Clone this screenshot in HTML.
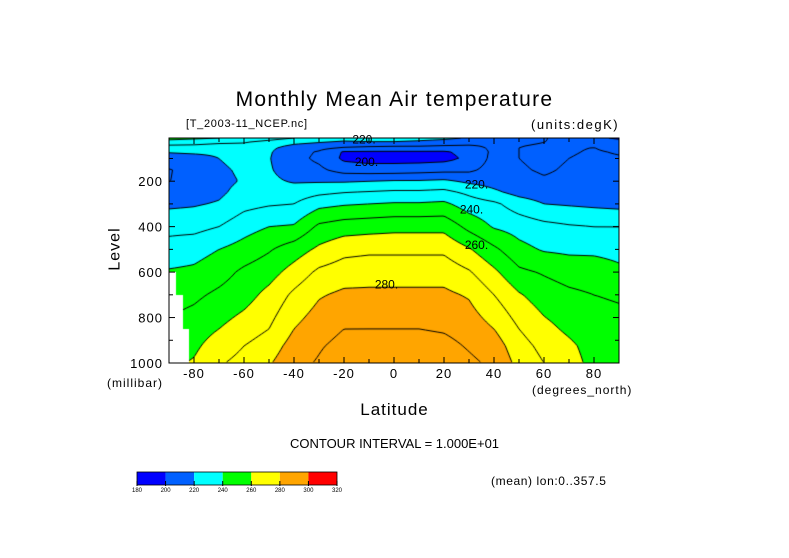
<!DOCTYPE html>
<html><head><meta charset="utf-8">
<style>
html,body{margin:0;padding:0;background:#fff;}
body{width:789px;height:558px;position:relative;overflow:hidden;font-family:"Liberation Sans",sans-serif;color:#000;}
.t{position:absolute;white-space:nowrap;}
#cv{position:absolute;left:169px;top:138px;}
svg{position:absolute;left:0;top:0;}
</style></head>
<body>
<div class="t" style="left:0;width:789px;text-align:center;top:88px;font-size:21px;letter-spacing:1.3px;">Monthly Mean Air temperature</div>
<div class="t" style="left:186px;top:118px;font-size:11px;letter-spacing:0.7px;">[T_2003-11_NCEP.nc]</div>
<div class="t" style="left:531px;top:117px;font-size:13px;letter-spacing:1.5px;">(units:degK)</div>
<canvas id="cv" width="450" height="225"></canvas>
<svg id="ov" width="789" height="558"></svg>
<div class="t" style="left:94px;top:240px;font-size:16px;letter-spacing:1px;transform:rotate(-90deg);">Level</div>
<div class="t" style="left:107px;top:376px;font-size:12px;letter-spacing:1px;">(millibar)</div>
<div class="t" style="left:532px;top:383px;font-size:12px;letter-spacing:1px;">(degrees_north)</div>
<div class="t" style="left:0;width:789px;text-align:center;top:400px;font-size:17px;letter-spacing:1px;">Latitude</div>
<div class="t" style="left:0;width:789px;text-align:center;top:436px;font-size:13px;">CONTOUR INTERVAL = 1.000E+01</div>
<div class="t" style="left:491px;top:474px;font-size:12px;letter-spacing:0.6px;">(mean) lon:0..357.5</div>
<script>
const lats=[-90,-80,-70,-60,-50,-40,-30,-20,-10,0,10,20,30,40,50,60,70,80,90];
const levels=[10,30,50,70,100,150,200,250,300,400,500,600,700,850,925,1000];
const T_m90=[244,234,227,221,215,209.5,209.8,213,218,227,234,241,246,252,255,258];
const T_m80=[242,233,227,222,216,213,213,215,219,227,236,242,248,255,258,261];
const T_m70=[240,231,226,222,220,218,217,218,221,230,240,246,252,260,265,269];
const T_m60=[238,230,227,225,224,222,221,224,227,236,244,252,256,265,270,273];
const T_m50=[234,226,222,221,220.5,221,222,224,229,240,249,256,263,270,275,279];
const T_m40=[230,222,217,214,213,215,219,225,230,241,255,264,272,280,284,287];
const T_m30=[226,220,214,209,208,212,219,228,237,252,262,272,279,286,289,291];
const T_m20=[224,218,211,199,198,206,219,230,239,255,267,275,282,290,293,296];
const T_m10=[224,219,209,199,196,205,220,231,240,256,268,276,282,290,294,297];
const T_0=[224,219,208,199,196,205,221,232,241,257,268,276,282,290,294,297];
const T_10=[223,218,208,199,196,206,221,232,241,257,268,276,282,290,294,297];
const T_20=[222,216,207,199,197,207,222,233,242,257,268,276,282,289,293,296];
const T_30=[219,214,207,203,202,208,218,228,235,247,261,271,279,286,289,292];
const T_40=[214,212,212,212,213,214,216,222,232,239,252,262,270,280,285,288];
const T_50=[213,211,210,210,210,211,213,217,225,236,243,252,261,270,274,277];
const T_60=[210.5,210,209,208,208,209,211,215,220,233,239,249,255,263,267,270];
const T_70=[207,209,209.5,209.5,210,211,212,215,219,231,238,246,252,258,262,264];
const T_80=[203,207,210,210.5,211,212,213,215,218,230,238,245,250,254,256,257];
const T_90=[198,205,208,209.5,210.5,211,212,214,217,230,237,242,249,253,255,256];
const grid=[T_m90,T_m80,T_m70,T_m60,T_m50,T_m40,T_m30,T_m20,T_m10,T_0,T_10,T_20,T_30,T_40,T_50,T_60,T_70,T_80,T_90];
const maskLat0=[-90,-87,-84.5];
const maskLat1=[-87,-84.5,-82];
const maskP=[600,700,850];
const colorBounds=[180,200,220,240,260,280,300,320];
const colorFills=['#0000ff','#0060ff','#00ffff','#00ff00','#ffff00','#ffa500','#ff0000'];
const contourLevels=[190,200,210,220,230,240,250,260,270,280,290,300];
const xTickVals=[-80,-60,-40,-20,0,20,40,60,80];
const yTickVals=[200,400,600,800,1000];

const X0=169,X1=619,Y0=138,Y1=363,LAT0=-90,LAT1=90,P0=10,P1=1000;
const W=450,H=225;
function xOf(lat){return X0+(lat-LAT0)/(LAT1-LAT0)*(X1-X0);}
function yOf(p){return Y0+(p-P0)/(P1-P0)*(Y1-Y0);}
function latAt(px){return LAT0+px/W*(LAT1-LAT0);}
function pAt(py){return P0+py/H*(P1-P0);}
function masked(lat,p){for(let i=0;i<maskP.length;i++){if(lat>=maskLat0[i]&&lat<maskLat1[i]&&p>=maskP[i])return true;}return false;}
function tAt(lat,p){
  if(masked(lat,p))return NaN;
  let i=0;while(i<lats.length-2&&lat>lats[i+1])i++;
  let j=0;while(j<levels.length-2&&p>levels[j+1])j++;
  let fx=(lat-lats[i])/(lats[i+1]-lats[i]);fx=Math.max(0,Math.min(1,fx));
  let fy=(p-levels[j])/(levels[j+1]-levels[j]);fy=Math.max(0,Math.min(1,fy));
  const a=grid[i][j],b=grid[i+1][j],c=grid[i][j+1],d=grid[i+1][j+1];
  return a*(1-fx)*(1-fy)+b*fx*(1-fy)+c*(1-fx)*fy+d*fx*fy;
}
function hex(c){return [parseInt(c.substr(1,2),16),parseInt(c.substr(3,2),16),parseInt(c.substr(5,2),16)];}
const cv=document.getElementById('cv');const ctx=cv.getContext('2d');
const img=ctx.createImageData(W,H);
const F=[];
for(let y=0;y<=H;y++){F.push([]);for(let x=0;x<=W;x++){F[y].push(tAt(latAt(x),pAt(y)));}}
for(let y=0;y<H;y++)for(let x=0;x<W;x++){
  const t=tAt(latAt(x+0.5),pAt(y+0.5));let rgb=[255,255,255];
  if(!isNaN(t)){let k=0;while(k<colorFills.length-1&&t>=colorBounds[k+1])k++;rgb=hex(colorFills[k]);}
  const o=(y*W+x)*4;img.data[o]=rgb[0];img.data[o+1]=rgb[1];img.data[o+2]=rgb[2];img.data[o+3]=255;
}
ctx.putImageData(img,0,0);
ctx.strokeStyle='#000';ctx.lineWidth=1;
const S=2;
contourLevels.forEach(lv=>{
  ctx.beginPath();
  for(let y=0;y+S<=H;y+=S)for(let x=0;x+S<=W;x+=S){
    const v=[F[y][x],F[y][x+S],F[y+S][x+S],F[y+S][x]];
    if(v.some(isNaN))continue;
    const pts=[];
    const e=[[0,1,x,y,x+S,y],[1,2,x+S,y,x+S,y+S],[3,2,x,y+S,x+S,y+S],[0,3,x,y,x,y+S]];
    e.forEach(q=>{const a=v[q[0]]-lv,b=v[q[1]]-lv;if((a<0)!==(b<0)){const f=a/(a-b);pts.push([q[2]+f*(q[4]-q[2]),q[3]+f*(q[5]-q[3])]);}});
    if(pts.length>=2){ctx.moveTo(pts[0][0],pts[0][1]);ctx.lineTo(pts[1][0],pts[1][1]);}
    if(pts.length===4){ctx.moveTo(pts[2][0],pts[2][1]);ctx.lineTo(pts[3][0],pts[3][1]);}
  }
  ctx.stroke();
});
const NS='http://www.w3.org/2000/svg';const ov=document.getElementById('ov');
function mk(tag,at){const e=document.createElementNS(NS,tag);for(const k in at)e.setAttribute(k,at[k]);ov.appendChild(e);return e;}
const frame=mk('rect',{x:X0,y:Y0,width:X1-X0,height:Y1-Y0,fill:'none',stroke:'#000','stroke-width':1});


for(let lat=-90;lat<=90;lat+=10){
  const x=xOf(lat),L=(lat%20===0)?6:4;
  mk('line',{x1:x,y1:Y1,x2:x,y2:Y1-L,stroke:'#000'});
  mk('line',{x1:x,y1:Y0,x2:x,y2:Y0+L,stroke:'#000'});
}
for(let p=100;p<=1000;p+=100){
  const y=yOf(p),L=(p%200===0)?6:4;
  mk('line',{x1:X0,y1:y,x2:X0+L,y2:y,stroke:'#000'});
  mk('line',{x1:X1,y1:y,x2:X1-L,y2:y,stroke:'#000'});
}
xTickVals.forEach(v=>{
  const t=mk('text',{x:xOf(v),y:378,'text-anchor':'middle','font-size':13,'letter-spacing':1,'font-family':'Liberation Sans, sans-serif'});
  t.textContent=v;
  
  
});
yTickVals.forEach(v=>{
  const t=mk('text',{x:163,y:yOf(v)+5,'text-anchor':'end','font-size':13,'letter-spacing':1,'font-family':'Liberation Sans, sans-serif'});
  t.textContent=v;
  
  
});
const labs=[['220.',-12,17],['200.',-11,115],['220.',33,215],['240.',31,325],['260.',33,480],['280.',-3,655]];
labs.forEach(l=>{
  const t=mk('text',{x:xOf(l[1]),y:yOf(l[2])+4,'text-anchor':'middle','font-size':12,'font-family':'Liberation Sans, sans-serif'});
  t.textContent=l[0];
  
  
});
const CB0=137,CB1=337,CBY=472,CBH=13;
const cbw=(CB1-CB0)/colorFills.length;
colorFills.forEach((c,i)=>{
  const r=mk('rect',{x:CB0+i*cbw,y:CBY,width:cbw,height:CBH,fill:c});
  
  
});
mk('rect',{x:CB0,y:CBY,width:CB1-CB0,height:CBH,fill:'none',stroke:'#000','stroke-width':0.8});
colorBounds.forEach((b,i)=>{
  const x=CB0+i*cbw;
  mk('line',{x1:x,y1:CBY+CBH-4,x2:x,y2:CBY+CBH+1,stroke:'#000'});
  const t=mk('text',{x:x,y:CBY+CBH+7,'text-anchor':'middle','font-size':6,'font-family':'Liberation Sans, sans-serif'});
  t.textContent=b;
  
  
});
</script>
</body></html>
